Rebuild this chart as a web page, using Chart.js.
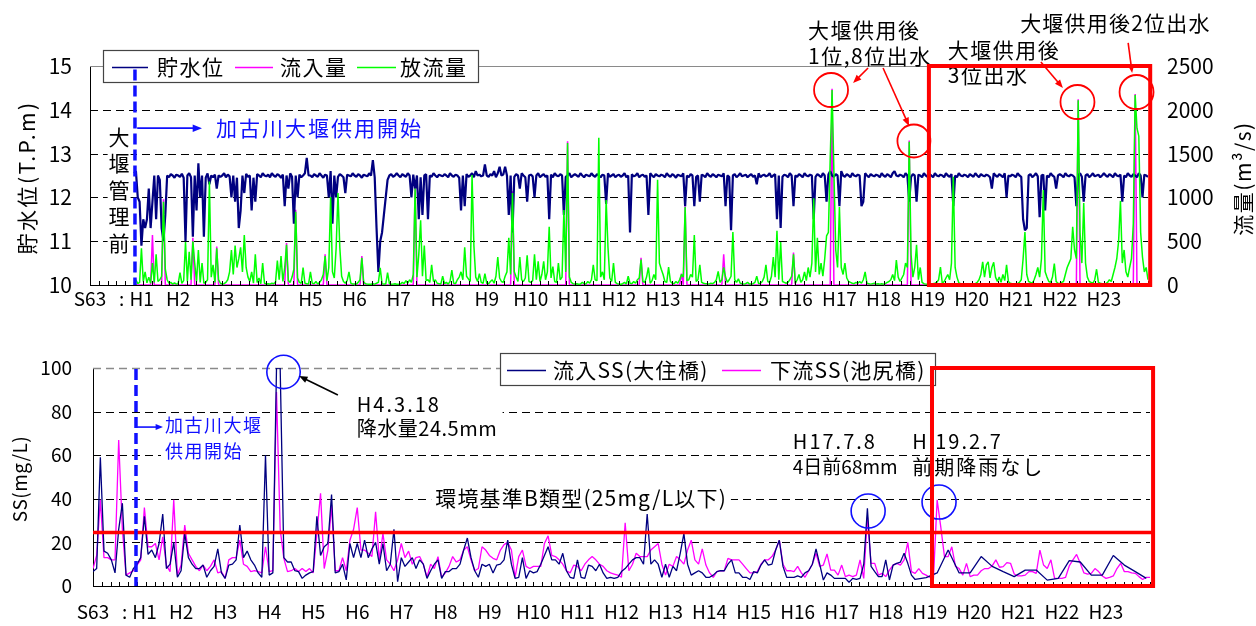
<!DOCTYPE html>
<html lang="ja">
<head>
<meta charset="utf-8">
<title>貯水位・流量とSSの経年変化</title>
<script src="https://cdn.jsdelivr.net/npm/chart.js@4.4.1/dist/chart.umd.min.js"></script>
<style>
  html, body { margin: 0; padding: 0; background: #fff; }
  #stage { position: relative; width: 1256px; height: 626px; overflow: hidden; }
  #stage canvas { position: absolute; left: 0; top: 0; }
</style>
</head>
<body>
<div id="stage">
  <canvas id="levelChart" width="1256" height="626"></canvas>
  <canvas id="ssChart" width="1256" height="626"></canvas>
</div>
<script>
// ---------- data ----------
// x axis: years counted from the start of S63 (1988)
const yearTickPos  = [0, 0.72, 1.17, 2, 3, 4, 5, 6, 7, 8, 9, 10, 11, 12, 13, 14, 15, 16, 17, 18, 19, 20, 21, 22, 23];
const yearTickText = ['S63', ':', 'H1', 'H2', 'H3', 'H4', 'H5', 'H6', 'H7', 'H8', 'H9', 'H10', 'H11', 'H12',
                      'H13', 'H14', 'H15', 'H16', 'H17', 'H18', 'H19', 'H20', 'H21', 'H22', 'H23'];

// top chart: half-month samples starting at H1
const flowStart = 1;
const flowStep = 1 / 24;

// 貯水位 (T.P.m)
const storageLevel = [
  12.55, 12.6, 12.0, 11.9, 10.9, 11.5, 11.3, 11.5, 12.2, 11.3, 11.9, 12.5, 11.5, 12.5, 12.4, 11.3, 11.0, 11.6, 12.5, 12.46, 12.53, 12.5, 12.45, 12.52, // H1
  12.5, 12.47, 12.54, 12.45, 11.0, 12.5, 12.55, 12.46, 11.1, 12.5, 11.7, 12.78, 12.0, 12.5, 11.1, 12.45, 12.55, 12.3, 12.5, 12.46, 12.52, 12.2, 12.5, 12.47, // H2
  12.5, 12.55, 12.46, 12.52, 12.48, 12.0, 12.5, 11.9, 12.45, 11.3, 11.7, 12.5, 12.1, 12.54, 12.47, 12.5, 11.7, 12.45, 11.9, 12.53, 12.5, 12.46, 12.55, 12.5, // H3
  12.48, 12.52, 12.46, 12.55, 12.5, 12.47, 12.53, 12.5, 12.45, 12.52, 11.8, 12.5, 12.2, 12.55, 12.47, 11.4, 12.5, 12.0, 12.52, 12.46, 12.5, 12.55, 12.9, 12.5, // H4
  12.5, 12.46, 12.53, 12.5, 12.47, 12.55, 12.5, 12.45, 12.52, 12.5, 12.0, 12.6, 11.4, 12.5, 12.0, 12.47, 12.53, 12.5, 12.46, 12.1, 12.52, 12.5, 12.48, 12.55, // H5
  12.5, 12.47, 12.53, 12.5, 12.45, 12.52, 12.5, 12.48, 12.55, 12.5, 12.85, 12.46, 11.3, 10.3, 11.0, 11.2, 11.6, 12.0, 12.4, 12.5, 12.53, 12.47, 12.5, 12.55, // H6
  12.5, 12.46, 12.53, 12.5, 12.47, 12.55, 12.5, 12.0, 12.52, 12.2, 12.5, 11.5, 12.46, 11.6, 12.5, 12.53, 11.5, 12.5, 12.47, 12.55, 12.5, 12.46, 12.52, 12.5, // H7
  12.48, 12.53, 12.5, 12.46, 12.55, 12.5, 12.47, 12.52, 12.5, 12.45, 11.7, 12.5, 11.8, 12.53, 12.47, 12.5, 12.55, 12.46, 12.6, 12.5, 12.52, 12.48, 12.5, 12.75, // H8
  12.5, 12.47, 12.53, 12.5, 12.6, 12.46, 12.55, 12.7, 12.5, 12.52, 12.7, 12.5, 11.6, 12.5, 11.2, 12.47, 12.53, 12.5, 12.2, 12.55, 12.5, 12.46, 11.9, 12.5, // H9
  12.52, 12.48, 12.0, 12.5, 12.55, 12.46, 12.5, 12.53, 12.47, 12.5, 11.5, 12.52, 12.46, 12.55, 12.5, 12.48, 12.53, 12.5, 11.6, 12.47, 12.5, 12.55, 12.46, 12.5, // H10
  12.53, 12.5, 12.47, 12.55, 12.5, 12.46, 12.52, 12.5, 12.48, 12.55, 12.5, 12.47, 12.53, 12.5, 12.46, 12.52, 12.5, 11.85, 12.55, 12.47, 12.5, 12.53, 12.46, 12.5, // H11
  12.52, 12.47, 12.5, 12.55, 12.46, 12.5, 11.2, 12.53, 12.48, 12.5, 12.55, 12.46, 12.5, 12.52, 12.47, 12.5, 11.6, 12.55, 12.5, 12.46, 12.53, 12.5, 12.48, 12.52, // H12
  12.5, 12.46, 12.55, 12.5, 12.47, 12.53, 12.5, 12.45, 12.52, 12.5, 12.48, 12.55, 11.8, 12.5, 12.46, 12.53, 12.5, 11.8, 12.47, 12.5, 11.9, 12.52, 12.5, 12.46, // H13
  12.55, 12.5, 12.47, 12.53, 12.5, 12.46, 12.52, 12.5, 12.48, 12.55, 11.8, 12.5, 12.47, 11.25, 12.5, 12.53, 12.46, 12.5, 12.55, 12.48, 12.5, 12.52, 12.46, 12.5, // H14
  12.53, 12.47, 12.5, 12.3, 12.55, 12.46, 12.5, 12.52, 12.48, 12.5, 12.55, 12.46, 12.5, 12.53, 11.5, 12.5, 11.3, 12.47, 12.52, 12.5, 12.46, 12.55, 12.5, 11.8, // H15
  12.5, 12.47, 12.53, 12.5, 12.46, 12.55, 12.5, 12.48, 12.52, 12.5, 11.5, 12.47, 12.53, 12.5, 12.46, 12.55, 12.5, 11.9, 12.52, 12.6, 12.5, 12.47, 12.53, 12.5, // H16
  11.8, 12.6, 12.5, 12.47, 12.53, 12.5, 12.46, 12.55, 12.5, 12.48, 12.52, 12.5, 11.8, 11.9, 12.55, 12.5, 12.46, 12.53, 12.5, 12.48, 12.52, 12.5, 12.46, 12.55, // H17
  12.5, 12.47, 12.53, 12.5, 12.46, 12.55, 12.6, 12.5, 12.48, 12.52, 12.5, 12.46, 12.55, 12.5, 11.9, 12.47, 12.53, 12.5, 11.9, 12.52, 12.5, 12.46, 12.55, 12.5, // H18
  12.47, 12.53, 12.5, 12.46, 12.55, 12.5, 12.48, 12.52, 12.5, 12.46, 12.55, 12.5, 12.47, 12.53, 11.8, 12.5, 12.46, 12.55, 12.5, 12.48, 12.52, 12.5, 12.46, 12.53, // H19
  12.5, 12.47, 12.55, 12.5, 12.46, 12.53, 12.5, 12.48, 12.52, 12.5, 12.46, 12.2, 12.55, 12.5, 12.47, 12.53, 12.5, 12.46, 12.55, 12.0, 12.5, 12.48, 12.52, 12.5, // H20
  12.46, 12.55, 12.5, 12.47, 11.5, 11.25, 11.3, 12.5, 12.53, 12.46, 12.5, 12.55, 12.48, 11.55, 12.5, 12.52, 11.7, 12.5, 12.46, 12.55, 12.5, 12.47, 12.2, 12.5, // H21
  12.53, 12.5, 12.46, 12.55, 12.5, 12.48, 12.52, 12.5, 12.46, 11.8, 12.5, 12.55, 12.47, 11.9, 12.5, 12.53, 12.46, 12.5, 12.55, 12.48, 12.5, 12.52, 12.46, 12.5, // H22
  12.55, 12.5, 12.47, 12.53, 12.5, 12.46, 12.55, 12.5, 12.48, 12.52, 11.9, 12.5, 12.46, 12.55, 12.5, 12.47, 12.53, 12.5, 12.46, 12.55, 12.5, 12.0, 12.52, 12.5, 12.47 // H23
];

// 放流量 (m3/s)
const outflow = [
  20, 60, 15, 30, 420, 40, 150, 25, 90, 20, 250, 30, 350, 40, 60, 100, 950, 180, 60, 20, 30, 10, 25, 10, // H1
  15, 140, 20, 50, 490, 40, 380, 60, 500, 250, 40, 400, 30, 250, 20, 30, 60, 1180, 90, 230, 30, 420, 60, 20, // H2
  10, 15, 30, 60, 150, 400, 120, 450, 200, 300, 430, 150, 570, 200, 90, 40, 150, 20, 350, 30, 80, 15, 250, 20, // H3
  10, 15, 10, 20, 15, 30, 280, 60, 330, 40, 200, 460, 50, 30, 90, 180, 835, 80, 30, 20, 200, 20, 15, 10, // H4
  150, 20, 15, 40, 10, 30, 60, 120, 330, 50, 200, 1005, 150, 80, 420, 1050, 430, 100, 40, 20, 50, 150, 20, 10, // H5
  10, 10, 30, 60, 310, 30, 15, 10, 8, 8, 15, 10, 20, 30, 195, 15, 10, 10, 140, 15, 8, 10, 15, 8, // H6
  8, 10, 30, 15, 50, 20, 60, 30, 120, 1100, 90, 350, 740, 100, 450, 50, 60, 30, 230, 40, 60, 20, 15, 10, // H7
  100, 15, 30, 10, 40, 170, 20, 15, 60, 90, 150, 60, 430, 100, 70, 40, 1255, 450, 90, 40, 130, 30, 20, 130, // H8
  20, 15, 40, 60, 20, 100, 320, 80, 40, 30, 100, 150, 540, 120, 1050, 150, 90, 40, 320, 60, 40, 80, 340, 40, // H9
  30, 50, 350, 60, 270, 40, 120, 270, 60, 150, 665, 80, 210, 40, 30, 250, 60, 90, 855, 150, 1620, 90, 30, 15, // H10
  10, 15, 8, 10, 30, 15, 10, 40, 20, 60, 230, 60, 50, 1680, 90, 150, 60, 970, 430, 80, 40, 250, 30, 15, // H11
  10, 8, 15, 30, 10, 100, 20, 15, 40, 20, 60, 80, 290, 40, 30, 90, 200, 20, 50, 120, 60, 1200, 250, 180, // H12
  120, 40, 30, 205, 40, 20, 15, 40, 20, 60, 120, 90, 890, 50, 60, 120, 90, 570, 40, 60, 230, 30, 20, 15, // H13
  15, 10, 20, 15, 30, 60, 155, 30, 60, 200, 90, 30, 60, 100, 605, 60, 30, 70, 20, 15, 10, 15, 30, 10, // H14
  10, 15, 30, 100, 15, 20, 40, 90, 230, 40, 30, 100, 320, 90, 620, 60, 490, 40, 30, 20, 30, 60, 100, 350, // H15
  20, 60, 120, 30, 60, 150, 50, 200, 90, 250, 990, 150, 540, 120, 250, 100, 300, 560, 600, 1450, 2225, 1300, 400, 200, // H16
  890, 200, 120, 250, 80, 40, 30, 20, 15, 30, 20, 40, 20, 60, 150, 20, 15, 10, 15, 20, 10, 15, 10, 15, // H17
  10, 15, 30, 40, 60, 120, 50, 285, 90, 40, 80, 120, 250, 200, 1635, 350, 90, 200, 460, 60, 200, 30, 15, 10, // H18
  8, 10, 8, 15, 20, 30, 60, 205, 20, 40, 80, 120, 60, 250, 1235, 200, 90, 25, 15, 10, 8, 10, 8, 10, // H19
  8, 10, 15, 30, 60, 120, 265, 90, 230, 265, 80, 200, 260, 90, 40, 90, 30, 120, 50, 230, 40, 20, 15, 10, // H20
  10, 15, 30, 60, 300, 605, 120, 40, 30, 20, 60, 120, 200, 90, 300, 1085, 150, 90, 40, 30, 90, 245, 40, 20, // H21
  15, 30, 40, 120, 200, 250, 300, 665, 400, 300, 2110, 600, 250, 935, 250, 90, 40, 30, 20, 60, 180, 30, 20, 15, // H22
  10, 15, 30, 60, 40, 120, 200, 300, 500, 960, 250, 400, 150, 90, 200, 300, 700, 2170, 1790, 1700, 600, 320, 150, 200, 60 // H23
];

// 流入量 (m3/s): sample index on the same half-month grid, and value
const inflowIdx = [0, 9, 10, 11, 15, 16, 17, 31, 32, 33, 44, 45, 46, 82, 83, 84, 87, 88, 89, 103, 104, 105,
  123, 124, 125, 152, 153, 154, 205, 206, 207, 235, 236, 237, 275, 276, 277, 297, 298, 299, 300, 301,
  320, 321, 322, 358, 359, 360, 379, 380, 381, 421, 422, 423, 513, 514, 515, 544, 545, 546, 552];
const inflowVal = [0, 0, 570, 0, 0, 980, 0, 0, 540, 0, 0, 440, 0, 0, 480, 0, 0, 860, 0, 0, 350, 0,
  0, 330, 0, 0, 1120, 0, 0, 1070, 0, 0, 1640, 0, 0, 310, 0, 0, 130, 0, 900, 0,
  0, 350, 0, 0, 370, 0, 0, 2240, 0, 0, 1650, 0, 0, 2120, 0, 0, 2180, 0, 0];

// bottom chart: monthly SS (mg/L) from January S63
const ssStep = 1 / 12;
const ssInflow = [
  6.6, 8, 59, 16, 15, 12, 6, 26, 38, 5, 4, 8,
  10, 13, 32, 14.5, 16.5, 13, 19.5, 33, 8, 10, 20, 4,
  7, 24, 13, 10, 8, 8, 9.6, 4, 7, 9, 17, 6,
  3.5, 9.6, 10, 12, 28, 13, 16, 12, 9.6, 6, 4, 60,
  5, 6, 100, 100, 13, 11, 11, 7, 6.6, 3.5, 5, 6,
  6.6, 32, 14, 18, 19.5, 42, 6, 6.6, 10, 2.8, 19.5, 13,
  19.5, 13, 21, 13, 17, 20, 10, 19.5, 7, 10, 26, 2,
  13, 9, 11, 13, 8, 12, 10, 3.5, 7, 10, 12, 3.5,
  6.6, 6.6, 8, 8, 10, 16.5, 22, 13, 7, 4, 10, 9,
  10, 6, 9.6, 10, 12, 21, 10, 3.5, 4, 13, 3.5, 7,
  6, 6.6, 10, 14, 18, 12, 12, 10, 15, 7, 4, 3.5,
  12, 4, 3.5, 9.6, 9, 7, 10, 6, 3.5, 4, 3.5, 4,
  6.6, 8, 10, 12, 13, 13, 10, 33, 10, 12, 10, 4,
  10, 4, 9, 7, 15, 24, 10, 5, 6, 7, 6, 4,
  4, 5, 6.6, 7, 7, 10, 12, 6, 6, 4, 4, 3,
  6.6, 6, 9.6, 12, 9.6, 10, 16.5, 21, 9, 4, 4, 4,
  4.6, 4, 6, 7, 10, 17, 10, 2.75, 6, 5, 3.5, 3.5,
  3.5, 3.5, 1.7, 3.5, 3, 3.5, 10, 35.6, 9, 6.6, 4.3, 4.3,
  12, 2.75, 9.6, 10.4, 11, 15, 10.4, 5, 3, null, null, 3.8,
  null, null, 6, null, null, 16.5, null, null, 6, null, null, 6,
  null, null, 13.5, null, null, 9, null, null, 6.6, null, null, 4.3,
  null, null, 7.3, null, null, 7.3, null, null, 2.7, null, null, 3.5,
  null, null, 11.6, null, null, 11, null, null, 5, null, null, 5,
  null, null, 14, null, null, 9.6, null, null, 6.6, null, null, 3.5,
  null
];
const ssDownstream = [
  8, 14, 39.5, 13, 13, 12, 12, 67, 26, 5, 6, 7,
  9.6, 12, 36, 18, 18, 19.5, 12, 22.6, 9.6, 6.6, 39.5, 5,
  9.6, 28, 15, 12, 9, 7, 9.6, 7, 9, 12, 6, 6.6,
  3.5, 12, 13, 13, 21, 10, 9, 6.6, 7, 6.6, 6, 18,
  6.6, 7, 89, 26, 12.7, 6.6, 7, 8, 6.6, 8, 6.6, 8,
  6, 24, 42.5, 8, 16.5, 37, 7, 7, 13, 7, 21, 26,
  36, 16.5, 16.5, 15, 13.5, 34, 12, 24, 12, 10, 7, 12,
  19.5, 13, 16, 10, 13, 13.5, 10, 4, 10, 8, 13.5, 4,
  6, 9, 13.5, 11, 12, 16.5, 18, 12, 7, 8, 18, 16.5,
  14, 12.7, 12, 16.5, 19, 20, 16.5, 4, 13.5, 16.5, 9, 8,
  9, 9, 9, 19.5, 23, 14, 13.5, 12, 10, 7, 6, 9.6,
  9, 7, 10, 12, 13.5, 12, 10, 9, 7, 6, 5.5, 5,
  4, 29, 7, 10, 15, 13.5, 13.5, 13.5, 16.5, 18, 19.5, 10,
  5, 10, 9, 13.5, 12, 10, 16.5, 21, 12, 10, 17, 9.6,
  6, 4, 6.6, 7, 7, 12.7, 12, 12, 12, 10, 8, 6,
  6, 6.6, 10, 12, 12, 13.5, 16.5, 21, 10, 7, 7, 6.6,
  9, 6, 4, 7, 10, 15, 9, 9.6, 14.7, 7.3, 7.3, 5,
  9.6, 4.3, 5, 4.3, 5, 12, 3.5, 31.8, 10.4, 10.4, 5, 5.8,
  4.3, 7.3, 9.6, 10.4, 9.6, 12, 20, 6.6, 5.8, 8, 5.8, 5,
  4, 3.5, 39.5, 27, 13.5, 13.5, 18, 9, 8, 5, 10.4, 4.3,
  5, 5, 7, 8, 8, 9.2, 12, 8.6, 8.9, 10.7, 10.4, 5.5,
  4.6, 4.6, 5, 6.6, 6.6, 5.8, 16.5, 9.6, 8, 12, 3.5, 3.5,
  3.5, 4, 9.2, 12, 14.5, 10.4, 6, 5.4, 5.8, 8, 6.6, 4.6,
  3.5, 4, 4.6, 8, 10.4, 6.6, 6.6, 6, 5.8, 4.3, 3, 4,
  4
];

const levelGrid = [11, 12, 13, 14];
const ssGrid = [20, 40, 60, 80];
const ssStandard = 25;

// ---------- drawing helpers ----------
const FONT = "'Noto Sans CJK JP', 'Noto Sans', sans-serif";
const NAVY = '#000080', MAGENTA = '#ff00ff', LIME = '#00ff00', BLUE = '#1010ff', RED = '#ff0000';

function hline(ctx, x1, x2, y, color, dash, lw) {
  ctx.save();
  ctx.strokeStyle = color; ctx.lineWidth = lw || 1; ctx.setLineDash(dash || []);
  ctx.beginPath(); ctx.moveTo(x1, Math.round(y) + 0.5); ctx.lineTo(x2, Math.round(y) + 0.5); ctx.stroke();
  ctx.restore();
}

function arrow(ctx, x1, y1, x2, y2, color, lw, head) {
  const a = Math.atan2(y2 - y1, x2 - x1);
  ctx.save();
  ctx.strokeStyle = color; ctx.fillStyle = color; ctx.lineWidth = lw;
  ctx.beginPath(); ctx.moveTo(x1, y1);
  ctx.lineTo(x2 - head * 0.8 * Math.cos(a), y2 - head * 0.8 * Math.sin(a)); ctx.stroke();
  ctx.beginPath(); ctx.moveTo(x2, y2);
  ctx.lineTo(x2 - head * Math.cos(a - 0.38), y2 - head * Math.sin(a - 0.38));
  ctx.lineTo(x2 - head * Math.cos(a + 0.38), y2 - head * Math.sin(a + 0.38));
  ctx.closePath(); ctx.fill();
  ctx.restore();
}

function ring(ctx, x, y, r, color, lw) {
  ctx.save();
  ctx.strokeStyle = color; ctx.lineWidth = lw;
  ctx.beginPath(); ctx.arc(x, y, r, 0, Math.PI * 2); ctx.stroke();
  ctx.restore();
}

function label(ctx, s, x, y, o) {
  o = o || {};
  const size = o.size || 21;
  ctx.save();
  ctx.font = size + 'px ' + FONT;
  ctx.textAlign = o.align || 'left';
  ctx.textBaseline = 'middle';
  if ('letterSpacing' in ctx) ctx.letterSpacing = (o.spacing != null ? o.spacing : 1.5) + 'px';
  if (o.bg) {
    const w = ctx.measureText(s).width;
    const x0 = o.align === 'center' ? x - w / 2 : x;
    ctx.fillStyle = '#fff';
    ctx.fillRect(x0 - 4, y - size * 0.62, w + 8, size * 1.24);
  }
  ctx.fillStyle = o.color || '#000';
  ctx.fillText(s, x, y);
  ctx.restore();
}

function vlabel(ctx, s, x, y, size, spacing) {
  ctx.save();
  ctx.translate(x, y); ctx.rotate(-Math.PI / 2);
  ctx.font = size + 'px ' + FONT;
  ctx.textAlign = 'center'; ctx.textBaseline = 'middle';
  if ('letterSpacing' in ctx) ctx.letterSpacing = spacing + 'px';
  ctx.fillStyle = '#000';
  ctx.fillText(s, 0, 0);
  ctx.restore();
}

function minorTicks(ctx, chart) {
  const a = chart.chartArea, x = chart.scales.x;
  ctx.save();
  ctx.strokeStyle = '#000'; ctx.lineWidth = 1;
  ctx.beginPath();
  for (let k = 0; k <= 120; k++) {
    const px = Math.round(x.getPixelForValue(k * 0.2)) + 0.5;
    ctx.moveTo(px, a.bottom); ctx.lineTo(px, a.bottom - 4);
  }
  ctx.stroke();
  ctx.restore();
}

function legendBox(ctx, x, y, w, h, items) {
  ctx.save();
  ctx.fillStyle = '#fff'; ctx.fillRect(x, y, w, h);
  ctx.strokeStyle = '#444'; ctx.lineWidth = 1.2; ctx.strokeRect(x + 0.5, y + 0.5, w, h);
  ctx.restore();
  const cy = y + h / 2 + 0.5;
  items.forEach(it => {
    hline(ctx, x + it.l0, x + it.l1, cy, it.color, [], 1.6);
    label(ctx, it.text, x + it.t, cy + 1, { size: 21, spacing: it.sp });
  });
}

// ---------- top chart: 貯水位 / 流入量 / 放流量 ----------
const levelDecor = {
  id: 'levelDecor',
  beforeDatasetsDraw(chart) {
    const { ctx, chartArea: a, scales: { y } } = chart;
    levelGrid.forEach(v => hline(ctx, a.left, a.right, y.getPixelForValue(v), '#000', [8, 5], 1));
    hline(ctx, a.left, a.right, y.getPixelForValue(15), '#8a8a8a', [], 1.2);
  },
  afterDraw(chart) {
    const { ctx, chartArea: a, scales: { x, y, yR } } = chart;
    const X = t => x.getPixelForValue(t);
    const Q = q => yR.getPixelForValue(q);
    const L = v => y.getPixelForValue(v);

    minorTicks(ctx, chart);

    legendBox(ctx, a.left + 13, a.top - 16, 375, 32, [
      { l0: 9, l1: 45, color: NAVY, text: '貯水位', t: 54, sp: 1.5 },
      { l0: 132, l1: 170, color: MAGENTA, text: '流入量', t: 177, sp: 1.5 },
      { l0: 254, l1: 293, color: LIME, text: '放流量', t: 297, sp: 1.5 }
    ]);

    // flood annotations
    ctx.save(); ctx.fillStyle = '#fff';
    ctx.fillRect(X(16.2), Q(3060), X(19.0) - X(16.2), Q(2510) - Q(3060));
    ctx.restore();
    label(ctx, '大堰供用後', X(16.29), Q(2911), { spacing: 1.5 });
    label(ctx, '1位,8位出水', X(16.29), Q(2614), { spacing: 1.5 });
    label(ctx, '大堰供用後', X(19.46), Q(2683), { spacing: 1.5 });
    label(ctx, '3位出水', X(19.46), Q(2397), { spacing: 1.5 });
    label(ctx, '大堰供用後2位出水', X(21.1), Q(2991), { spacing: 1.2 });

    arrow(ctx, X(17.65), Q(2477), X(17.31), Q(2306), RED, 1.6, 9);
    arrow(ctx, X(17.99), Q(2477), X(18.58), Q(1815), RED, 1.6, 9);
    arrow(ctx, X(21.57), Q(2546), X(22.07), Q(2249), RED, 1.6, 9);
    arrow(ctx, X(23.55), Q(2763), X(23.64), Q(2420), RED, 1.6, 9);

    ring(ctx, X(16.81), Q(2226), 17, RED, 1.8);
    ring(ctx, X(18.69), Q(1644), 16.5, RED, 1.8);
    ring(ctx, X(22.40), Q(2089), 17, RED, 1.8);
    ring(ctx, X(23.74), Q(2203), 17, RED, 1.8);

    ctx.save();
    ctx.strokeStyle = RED; ctx.lineWidth = 4;
    ctx.strokeRect(X(19.03), Q(2500), X(24.05) - X(19.03), Q(0) - Q(2500));
    ctx.restore();

    // weir start
    ctx.save();
    ctx.strokeStyle = BLUE; ctx.lineWidth = 3.5; ctx.setLineDash([11, 5]);
    ctx.beginPath(); ctx.moveTo(X(1.02), L(14.92)); ctx.lineTo(X(1.02), L(10)); ctx.stroke();
    ctx.restore();
    arrow(ctx, X(1.07), L(13.58), X(2.54), L(13.58), BLUE, 1.8, 10);
    label(ctx, '加古川大堰供用開始', X(2.86), L(13.58), { color: BLUE, spacing: 2 });

    ctx.save(); ctx.fillStyle = '#fff';
    ctx.fillRect(X(0.4), L(13.62), X(0.92) - X(0.4), L(10.7) - L(13.62));
    ctx.restore();
    ['大', '堰', '管', '理', '前'].forEach((c, k) => {
      label(ctx, c, X(0.66), L(13.38) + k * 26.5, { align: 'center', spacing: 0 });
    });

    // axis titles
    vlabel(ctx, '貯水位(T.P.m)', a.left - 63, (a.top + a.bottom) / 2 + 2, 21, 2.5);
    vlabel(ctx, '流量(m³/s)', a.right + 95, (a.top + a.bottom) / 2 + 3, 21, 1.5);
  }
};

const halfMonthX = j => flowStart + j * flowStep;

new Chart(document.getElementById('levelChart'), {
  type: 'line',
  data: {
    datasets: [
      {
        label: '放流量', yAxisID: 'yR', order: 0,
        data: outflow.map((v, j) => ({ x: halfMonthX(j), y: v })),
        borderColor: LIME, borderWidth: 1.5
      },
      {
        label: '貯水位', yAxisID: 'y', order: 1,
        data: storageLevel.map((v, j) => ({ x: halfMonthX(j), y: v })),
        borderColor: NAVY, borderWidth: 2.2
      },
      {
        label: '流入量', yAxisID: 'yR', order: 2,
        data: inflowIdx.map((j, k) => ({ x: halfMonthX(j), y: inflowVal[k] })),
        borderColor: MAGENTA, borderWidth: 1.5
      }
    ]
  },
  options: {
    responsive: false, animation: false, events: [],
    layout: { padding: { left: 0, right: 0, top: 66, bottom: 301 } },
    elements: { point: { radius: 0 }, line: { tension: 0, borderJoinStyle: 'bevel' } },
    plugins: { legend: { display: false }, tooltip: { enabled: false } },
    scales: {
      x: {
        type: 'linear', min: 0, max: 24,
        afterBuildTicks: ax => { ax.ticks = yearTickPos.map(v => ({ value: v })); },
        afterFit: ax => { ax.height = 40; },
        ticks: { autoSkip: false, maxRotation: 0, padding: 2, color: '#000',
                 font: { family: FONT, size: 19 }, callback: (v, i) => yearTickText[i] },
        grid: { display: false, drawTicks: false },
        border: { display: true, color: '#000', width: 1 }
      },
      y: {
        position: 'left', min: 10, max: 15,
        afterFit: ax => { ax.width = 90; },
        ticks: { stepSize: 1, padding: 18, color: '#000', font: { family: FONT, size: 21 } },
        grid: { display: false, drawTicks: false },
        border: { display: true, color: '#000', width: 1 }
      },
      yR: {
        position: 'right', min: 0, max: 2500,
        afterFit: ax => { ax.width = 108; },
        ticks: { stepSize: 500, padding: 19, color: '#000', font: { family: FONT, size: 21 },
                 callback: v => String(v) },
        grid: { display: false, drawTicks: false },
        border: { display: false }
      }
    }
  },
  plugins: [levelDecor]
});

// ---------- bottom chart: SS ----------
const ssDecor = {
  id: 'ssDecor',
  beforeDatasetsDraw(chart) {
    const { ctx, chartArea: a, scales: { y } } = chart;
    ssGrid.forEach(v => hline(ctx, a.left, a.right, y.getPixelForValue(v), '#000', [8, 5], 1));
    hline(ctx, a.left, a.right, y.getPixelForValue(100), '#8a8a8a', [8, 5], 1.3);
  },
  afterDraw(chart) {
    const { ctx, chartArea: a, scales: { x, y } } = chart;
    const X = t => x.getPixelForValue(t);
    const V = v => y.getPixelForValue(v);

    minorTicks(ctx, chart);

    // environmental standard
    hline(ctx, a.left, X(24.07), V(ssStandard), RED, [], 3.5);
    label(ctx, '環境基準B類型(25mg/L以下)', X(7.77), V(40.4), { size: 21, spacing: 1.2, bg: true });

    legendBox(ctx, a.left + 407, a.top - 15, 435, 32, [
      { l0: 7, l1: 46, color: NAVY, text: '流入SS(大住橋)', t: 53, sp: 1.3 },
      { l0: 222, l1: 261, color: MAGENTA, text: '下流SS(池尻橋)', t: 270, sp: 1.3 }
    ]);

    // weir start
    ctx.save();
    ctx.strokeStyle = BLUE; ctx.lineWidth = 3.5; ctx.setLineDash([11, 5]);
    ctx.beginPath(); ctx.moveTo(X(0.976), V(99.5)); ctx.lineTo(X(0.976), V(0)); ctx.stroke();
    ctx.restore();
    arrow(ctx, X(1.0), V(72.9), X(1.59), V(72.9), BLUE, 1.6, 8);
    label(ctx, '加古川大堰', X(1.635), V(73.9), { size: 18, color: BLUE, spacing: 1.5 });
    label(ctx, '供用開始', X(1.635), V(61.9), { size: 18, color: BLUE, spacing: 1.5, bg: true });

    // events
    ring(ctx, X(4.326), V(98.2), 16.7, BLUE, 1.6);
    ctx.save(); ctx.fillStyle = '#fff';
    ctx.fillRect(X(5.6), V(87), X(9.3) - X(5.6), V(76.8) - V(87));
    ctx.restore();
    arrow(ctx, X(5.56), V(87.6), X(4.68), V(96.3), '#000', 1.6, 9);
    label(ctx, 'H4.3.18', X(5.99), V(83.5), { size: 20, spacing: 2 });
    label(ctx, '降水量24.5mm', X(5.99), V(72.5), { size: 20, spacing: 0.5 });

    label(ctx, 'H17.7.8', X(15.89), V(66.1), { size: 20, spacing: 2 });
    label(ctx, '4日前68mm', X(15.89), V(54.6), { size: 19, spacing: 0 });
    label(ctx, 'H 19.2.7', X(18.6), V(66.1), { size: 20, spacing: 2 });
    label(ctx, '前期降雨なし', X(18.6), V(54.6), { size: 20, spacing: 2 });
    ring(ctx, X(17.6), V(34.4), 17, BLUE, 1.6);
    ring(ctx, X(19.21), V(38.5), 17, BLUE, 1.6);

    ctx.save();
    ctx.strokeStyle = RED; ctx.lineWidth = 4;
    ctx.strokeRect(X(19.05), V(100), X(24.07) - X(19.05), V(0) - V(100));
    ctx.restore();

    vlabel(ctx, 'SS(mg/L)', a.left - 73, (a.top + a.bottom) / 2 + 2, 19, 0.5);
  }
};

const monthX = i => i * ssStep;

new Chart(document.getElementById('ssChart'), {
  type: 'line',
  data: {
    datasets: [
      {
        label: '流入SS(大住橋)', order: 0, spanGaps: true,
        data: ssInflow.map((v, i) => ({ x: monthX(i), y: v })),
        borderColor: NAVY, borderWidth: 1.3
      },
      {
        label: '下流SS(池尻橋)', order: 1, spanGaps: true,
        data: ssDownstream.map((v, i) => ({ x: monthX(i), y: v })),
        borderColor: MAGENTA, borderWidth: 1.3
      }
    ]
  },
  options: {
    responsive: false, animation: false, events: [],
    layout: { padding: { left: 0, right: 106, top: 368, bottom: 0 } },
    elements: { point: { radius: 0 }, line: { tension: 0, borderJoinStyle: 'bevel' } },
    plugins: { legend: { display: false }, tooltip: { enabled: false } },
    scales: {
      x: {
        type: 'linear', min: 0, max: 24,
        afterBuildTicks: ax => { ax.ticks = yearTickPos.map(v => ({ value: v })); },
        afterFit: ax => { ax.height = 40; },
        ticks: { autoSkip: false, maxRotation: 0, padding: 14, color: '#000',
                 font: { family: FONT, size: 19 }, callback: (v, i) => yearTickText[i] },
        grid: { display: false, drawTicks: false },
        border: { display: true, color: '#000', width: 1 }
      },
      y: {
        position: 'left', min: 0, max: 100,
        afterFit: ax => { ax.width = 93; },
        ticks: { stepSize: 20, padding: 21, color: '#000', font: { family: FONT, size: 19 } },
        grid: { display: false, drawTicks: false },
        border: { display: true, color: '#000', width: 1 }
      }
    }
  },
  plugins: [ssDecor]
});
</script>
</body>
</html>
